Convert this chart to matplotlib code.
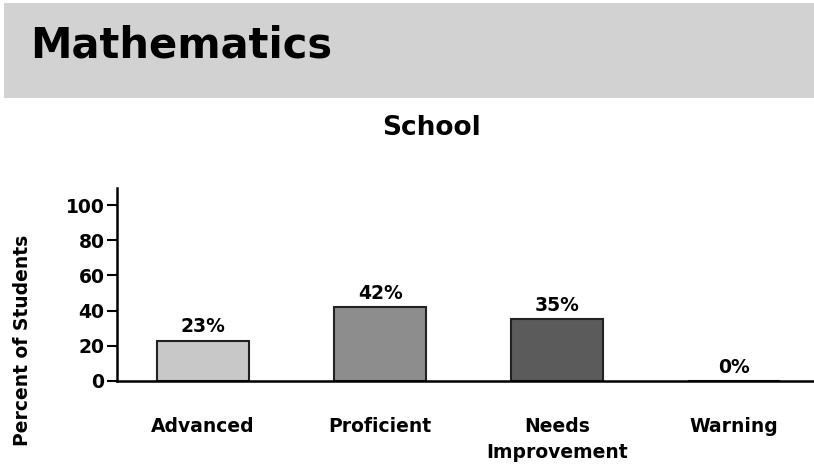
import matplotlib.pyplot as plt
from matplotlib.patches import Rectangle

# chart values
categories = ["Advanced", "Proficient", "Needs\nImprovement", "Warning"]
percents = [23, 42, 35, 0]
bar_colors = ["#c8c8c8", "#8d8d8d", "#5b5b5b", "#ffffff"]
y_ticks = [0, 20, 40, 60, 80, 100]

FONT = "DejaVu Sans"

fig = plt.figure(figsize=(8.14, 4.70), dpi=100)

# grey header band
fig.patches.append(Rectangle((4 / 814, 1 - 98 / 470), 1 - 4 / 814, 95 / 470,
                             transform=fig.transFigure, facecolor="#d2d2d2",
                             edgecolor="none", zorder=0))
fig.text(30 / 814, 1 - 46 / 470, "Mathematics", fontsize=30, fontweight="bold",
         family=FONT, va="center", ha="left")
fig.text(432 / 814, 1 - 128 / 470, "School", fontsize=19, family=FONT,
         fontweight="bold", va="center", ha="center")

ax = fig.add_axes([117 / 814, 1 - 381 / 470, 1 - 117 / 814, (381 - 188) / 470])
x = list(range(len(categories)))
bars = ax.bar(x, percents, width=0.52, color=bar_colors, edgecolor="#222222",
              linewidth=1.5, zorder=2)
for xi, p in zip(x, percents):
    ax.text(xi, p + 2.5, f"{p}%", ha="center", va="bottom", fontsize=13.5,
            family=FONT, fontweight="bold")

ax.set_xlim(-0.486, 3.45)
ax.set_ylim(0, 109.7)
ax.set_yticks(y_ticks)
ax.set_yticklabels([str(v) for v in y_ticks], fontsize=13.5, family=FONT,
                   fontweight="bold")
ax.set_xticks(x)
ax.set_xticklabels(categories, fontsize=13.5, family=FONT, fontweight="bold",
                   linespacing=1.45)
ax.tick_params(axis="x", length=0, pad=26)
ax.tick_params(axis="y", length=7, width=1.5, pad=2)
ax.spines["top"].set_visible(False)
ax.spines["right"].set_visible(False)
ax.spines["left"].set_linewidth(1.8)
ax.spines["bottom"].set_linewidth(1.8)
ax.set_ylabel("Percent of Students", fontsize=13.5, family=FONT,
              fontweight="bold")
ax.yaxis.set_label_coords(-0.122, 0.21)

fig.savefig("out.png", dpi=100)
